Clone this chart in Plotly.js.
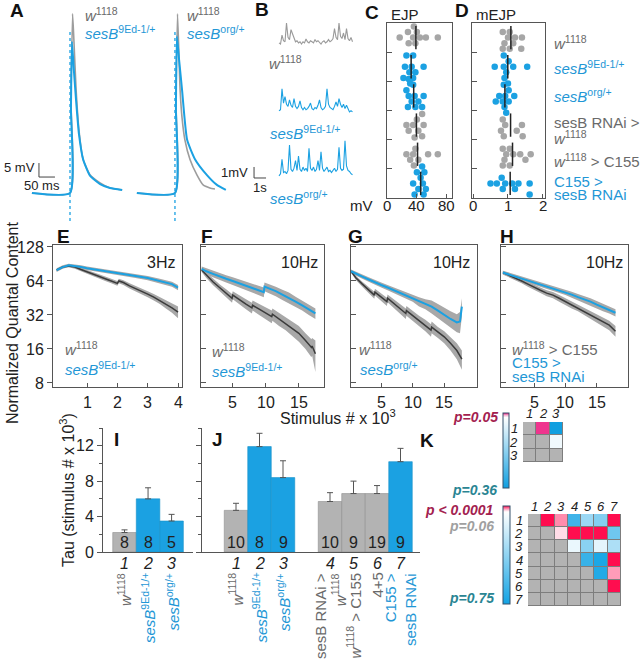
<!DOCTYPE html>
<html>
<head>
<meta charset="utf-8">
<script src="https://cdn.plot.ly/plotly-3.0.1.min.js"></script>
<style>
  html, body { margin: 0; padding: 0; background: #fff; }
  #fig { width: 642px; height: 664px; }
</style>
</head>
<body>
<div id="fig"></div>
<script>
// ---- A: averaged EJPs (ms, mV) ----
const aW_leftT  = [6, 125, 128, 133, 137, 144, 153, 166, 188, 219, 250, 288];
const aW_leftV  = [0, 0, 33, 64, 55, 37, 22.5, 12, 6.4, 3.6, 1.8, 1.1];
const aS_leftT  = [6, 125, 128, 131, 137, 144, 153, 166, 188, 219, 250, 288];
const aS_leftV  = [0, 0, 30, 54, 44, 33, 21, 12, 6.1, 3.2, 1.8, 1.1];
const aW_rightT = [334, 453, 456, 461, 469, 475, 484, 500, 522, 541, 562, 578];
const aW_rightV = [0, 0, 33, 64, 37, 27, 19, 12, 6.4, 2.9, 1.8, 1.4];
const aS_rightT = [334, 453, 456, 459, 466, 475, 491, 516, 553, 584, 612];
const aS_rightV = [0, 0, 30, 56, 47.5, 37, 19, 12, 6.4, 2.9, 1.1];
const aStimT = [125, 453];

// ---- B: mEJP recordings (mV, one sample per 0.125 s) ----
const bDt = 0.125;
const bW = [0.1,0.0,0.8,0.3,0.2,1.9,0.6,0.4,1.3,0.9,0.4,0.2,0.3,0.1,0.2,0.0,0.2,0.1,0.45,0.2,0.1,0.3,0.2,0.1,0.4,
            0.2,0.3,0.1,0.0,0.2,0.3,0.1,0.2,0.4,0.2,0.3,0.5,1.4,0.6,0.4,1.9,0.7,0.5,1.0,0.4,1.4,0.5,0.3,0.6,0.2];
const bS9 = [0.2,0.3,2.2,0.9,1.5,0.8,0.6,1.2,0.7,0.5,1.3,0.6,0.4,0.6,1.1,0.5,0.3,0.5,0.3,0.4,0.6,0.9,0.4,0.3,0.5,
             0.4,0.7,1.2,0.5,0.3,0.4,0.6,2.2,0.8,0.5,0.4,0.3,0.6,1.0,0.6,1.3,0.8,0.5,0.8,0.4,0.7,0.3,0.1,0.2,0.1];
const bSorg = [0.1,0.3,1.6,0.4,0.5,0.3,0.6,2.9,0.7,0.5,0.8,1.5,0.6,1.9,0.7,0.5,0.9,0.6,0.8,0.5,2.6,0.8,0.6,0.9,0.5,
               0.7,1.5,0.6,2.3,0.8,0.5,0.7,0.9,0.5,0.6,0.4,0.6,0.8,0.5,0.7,2.7,0.8,0.6,0.7,3.3,1.0,0.6,0.5,0.3,0.2];

// ---- C / D: EJP (mV) and mEJP (mV) per genotype ----
const cdMut = [false, true, true, false, false, true];
const ejp = [
  [35, 29, 44, 17, 28, 38, 52, 68, 36, 40],
  [33, 24, 38, 22, 35, 49, 26, 35, 31, 30],
  [29, 28, 37, 49, 26, 35, 47, 29, 38, 42, 33],
  [49, 26, 42, 35, 47, 29, 40, 47],
  [35, 36, 42, 26, 38, 55, 68, 31, 37],
  [48, 42, 52, 35, 45, 50, 40, 52, 44, 49, 37, 47]
];
const mejp = [
  [1.0, 0.9, 1.15, 1.4, 0.85, 1.05, 1.38, 0.85, 1.05, 1.2],
  [0.88, 0.95, 0.62, 0.9, 1.15, 1.55, 0.88, 1.02, 1.0],
  [0.75, 0.92, 1.02, 0.65, 0.9, 1.18, 0.88, 1.02, 0.95, 0.85],
  [0.92, 0.8, 1.4, 0.85, 1.25, 0.88, 1.42],
  [0.95, 0.9, 1.15, 0.85, 1.05, 1.35, 1.65, 0.85, 1.05, 1.5],
  [0.68, 0.92, 1.3, 1.62, 0.5, 0.85, 1.12, 1.62, 0.82, 1.2]
];

// ---- E-H: normalized quantal content vs stimulus # (x 10^3); mean and SEM ----
const eXs = [0, 0.2, 0.4, 0.6, 0.8, 1.0, 1.4, 1.8, 2.2, 2.6, 3.0, 3.4, 3.8, 4.0];
const eMs = [80, 85, 88, 87, 85, 83, 80, 77, 74, 71, 68, 64, 60, 56];
const eEs = [3, 3, 3, 3, 3, 3, 3, 3, 3, 3, 3, 3, 3, 3];
const eXw = [0, 0.2, 0.4, 0.6, 0.8, 1.0, 1.2, 1.4, 1.6, 1.8, 2.0, 2.05, 2.2, 2.4, 2.6, 2.8, 3.0, 3.2, 3.4, 3.6, 3.8, 4.0];
const eMw = [80, 85, 87, 85, 81, 77, 73, 70, 67, 64, 61, 64, 62, 58, 55, 52, 49, 46, 43, 40, 37, 34];
const eEw = [2, 2, 2.5, 3, 3, 3, 3, 3, 3, 3, 3, 3, 3, 3, 3, 3, 3, 3, 3, 3.5, 3.5, 4];

const fXs = [0.3, 1, 2, 3, 4, 5, 6, 7, 8, 9, 9.7, 9.8, 10.5, 11.5, 12.5, 13.5, 14.5, 15.5, 16.5, 17.5];
const fMs = [82, 78, 74, 70, 67, 64, 61, 58, 55.5, 53, 51, 57, 55, 52, 48.5, 45.5, 42, 39, 36, 33];
const fEs = [4, 5, 5, 5, 5, 5, 5, 5, 5, 5, 5, 5, 5, 5, 5, 5, 4.5, 4, 4, 3.5];
const fXw = [0.3, 1, 2, 3, 4, 4.9, 5.0, 6, 7, 7.9, 8.0, 9, 10, 10.9, 11.0, 12, 13, 14, 15, 16, 16.9, 17.0, 17.5];
const fMw = [80, 72, 63, 56, 50, 45, 48, 43.5, 40, 37, 39, 36, 33.5, 31, 32.5, 29.5, 27, 24.5, 22, 19, 16.5, 17, 14.5];
const fEw = [3, 4, 4, 4, 4, 4, 4, 4, 4, 4, 4, 4, 4, 4, 4, 4, 3.5, 3.5, 3.5, 3, 3, 3, 4.5];

const gXs = [0.2, 1, 2, 3, 4, 5, 6, 7, 8, 9, 10, 11, 12, 13, 14, 15, 16, 17, 17.5, 17.8];
const gMs = [78, 74, 70, 66, 62, 59, 56, 53, 50, 47.5, 45, 42, 40, 38, 35, 32, 29.5, 27.5, 28, 38];
const gEs = [3, 3, 3, 3, 3, 3, 3, 3, 3, 3, 3, 4, 4, 5, 5, 5, 5, 5, 6, 7];
const gXw = [0.2, 1, 2, 3, 3.9, 4.0, 5, 5.9, 6.0, 7, 8, 8.9, 9.0, 10, 11, 12, 12.9, 13.0, 14, 15, 16, 17, 17.8];
const gMw = [78, 68, 60, 53, 48, 51, 46, 42, 45, 40.5, 36.5, 33, 35, 31.5, 28.5, 26, 23.5, 25, 22.5, 20.5, 18, 15.5, 13];
const gEw = [2, 3, 3, 3.5, 3.5, 3.5, 3.5, 3.5, 3.5, 3.5, 3.5, 3.5, 3.5, 3, 3, 3, 3, 3, 2.5, 2.5, 2.5, 2.5, 2.5];

const hXs = [0, 1, 2, 3, 4, 5, 6, 7, 8, 9, 10, 11, 12, 13, 14, 15, 16, 17, 18];
const hMs = [76, 73, 70, 67.5, 65, 62.5, 60, 57.5, 55, 53, 51, 48.5, 46, 44, 42, 39.5, 37.5, 35.5, 33.5];
const hEs = [3, 3, 3, 3, 3, 3, 3, 3, 3, 3, 3, 3, 3, 3, 3, 3, 3, 2.5, 2.5];
const hXw = [0, 1, 2, 3, 4, 5, 6, 7, 8, 9, 10, 11, 12, 13, 14, 15, 16, 17, 18];
const hMw = [76, 72, 68, 64, 60, 56, 53, 50, 48, 45, 42, 39.5, 37, 34.5, 32, 30, 28, 26, 23];
const hEw = [3, 3, 3, 3, 3, 3, 3, 3, 3, 3, 3, 3, 2.5, 2.5, 2.5, 2.5, 2.5, 2.5, 2.5];

// ---- I / J: tau (stimulus # x 10^3) ----
const iPos = [1, 2, 3];
const iTau = [2.2, 6.0, 3.5];
const iErr = [0.3, 1.25, 0.75];
const iN = ['8', '8', '5'];
const iNum = ['1', '2', '3'];
const iMut = [false, true, true];
const iNames = ['<i>w</i><sup>1118</sup>', '<i>sesB</i><sup>9Ed-1/+</sup>', '<i>sesB</i><sup>org/+</sup>'];

const jPos = [1, 2, 3, 5, 6, 7, 8];
const jTau = [4.7, 11.9, 8.4, 5.7, 6.6, 6.6, 10.2];
const jErr = [0.8, 1.5, 1.9, 1.0, 1.4, 0.9, 1.5];
const jN = ['10', '8', '9', '10', '9', '19', '9'];
const jNum = ['1', '2', '3', '4', '5', '6', '7'];
const jMut = [false, true, true, false, false, false, true];
const jNames = ['<i>w</i><sup>1118</sup>', '<i>sesB</i><sup>9Ed-1/+</sup>', '<i>sesB</i><sup>org/+</sup>',
                'sesB RNAi ><br><i>w</i><sup>1118</sup>', '<i>w</i><sup>1118</sup> > C155', '4+5', 'C155 ><br>sesB RNAi'];

// ---- K: pairwise p values (upper triangle) ----
const kTopP = [
  [null, 0.0002, 0.36],
  [null, null, 0.07],
  [null, null, null]
];
const kBotP = [
  [null, 0.00005, 0.003, 0.62, 0.35, 0.42, 0.00005],
  [null, null, 0.04, 0.00005, 0.00005, 0.00005, 0.48],
  [null, null, null, 0.12, 0.40, 0.14, 0.30],
  [null, null, null, null, 0.64, 0.72, 0.00005],
  [null, null, null, null, null, 0.70, 0.005],
  [null, null, null, null, null, null, 0.00005],
  [null, null, null, null, null, null, null]
];

// ---------------------------------------------------------------
const W = 642, H = 664;
const X = px => px / W;
const Y = py => 1 - py / H;
const xdom = (a, b) => [X(a), X(b)];
const ydom = (a, b) => [Y(b), Y(a)];

const BLUE = '#1ba1e2', BLUE_TXT = '#1f97d6', GRAY_TXT = '#6a6a6a', DARK = '#3b3b3b';
const BAND = '#a8a8a8', DOT_GRAY = '#a6a6a6', BAR_GRAY = '#b3b3b3', AXIS = '#555';
const FONT = 'Arial, "Liberation Sans", Helvetica, sans-serif';

const traces = [];
const ann = [];
const shapes = [];
const layout = {
  width: W, height: H, margin: {l: 0, r: 0, t: 0, b: 0},
  paper_bgcolor: '#fff', plot_bgcolor: 'rgba(0,0,0,0)',
  showlegend: false, hovermode: false,
  font: {family: FONT, color: '#222'},
  annotations: ann, shapes: shapes
};

function sfx(n) { return n === 1 ? '' : String(n); }
function setAxes(n, xd, yd, xo, yo) {
  const s = sfx(n);
  layout['xaxis' + s] = Object.assign({domain: xd, anchor: 'y' + s, showgrid: false, zeroline: false}, xo);
  layout['yaxis' + s] = Object.assign({domain: yd, anchor: 'x' + s, showgrid: false, zeroline: false}, yo);
}
function onAx(n, t) { const s = sfx(n); t.xaxis = 'x' + s; t.yaxis = 'y' + s; traces.push(t); return t; }
function note(x, y, text, size, color, xa, extra) {
  ann.push(Object.assign({xref: 'paper', yref: 'paper', x: X(x), y: Y(y), text: text, showarrow: false,
    xanchor: xa || 'left', yanchor: 'middle', font: {family: FONT, size: size, color: color}}, extra || {}));
}
// tick labels placed as annotations so they sit as close to the axis as in the original
function xTickLabels(n, vals, py, size) {
  vals.forEach(v => ann.push({xref: 'x' + sfx(n), yref: 'paper', x: v, y: Y(py), text: String(v),
    showarrow: false, xanchor: 'center', yanchor: 'middle', font: {family: FONT, size: size, color: '#222'}}));
}
const hidden = o => Object.assign({visible: false}, o);
const boxAx = o => Object.assign({showline: true, mirror: true, linecolor: AXIS, linewidth: 1,
  ticks: 'inside', ticklen: 4, tickcolor: AXIS, tickfont: {family: FONT, size: 16, color: '#222'}}, o);

// panel letters
[['A', 17, 11], ['B', 262, 10], ['C', 372, 12], ['D', 462, 11], ['E', 63, 236], ['F', 207, 236],
 ['G', 356, 236], ['H', 507, 236], ['I', 116, 439], ['J', 217, 439], ['K', 427, 440]]
  .forEach(p => note(p[1], p[2], '<b>' + p[0] + '</b>', 19, '#111', 'center'));

// ---------------- A ----------------
const aMsPerPx = 3.125, aPxPerMv = 2.8, aT0px = 30, aBasePx = 193;
setAxes(1, xdom(0, 250), ydom(0, 225),
  hidden({range: [(0 - aT0px) * aMsPerPx, (250 - aT0px) * aMsPerPx]}),
  hidden({range: [(aBasePx - 225) / aPxPerMv, aBasePx / aPxPerMv]}));
const stimX = [], stimY = [];
aStimT.forEach(t => { stimX.push(t, t, null); stimY.push(-10, 58, null); });
onAx(1, {type: 'scatter', mode: 'lines', x: stimX, y: stimY, line: {color: BLUE, width: 1.3, dash: 'dot'}});
[[aW_leftT, aW_leftV, '#9d9d9d'], [aW_rightT, aW_rightV, '#9d9d9d'],
 [aS_leftT, aS_leftV, BLUE], [aS_rightT, aS_rightV, BLUE]].forEach(d =>
  onAx(1, {type: 'scatter', mode: 'lines', x: d[0], y: d[1],
    line: {color: d[2], width: d[2] === BLUE ? 2 : 1.6, shape: 'spline', smoothing: 0.5}}));
// 5 mV / 50 ms scale bar
const aBarT0 = 28, aBarV0 = 5.7;
onAx(1, {type: 'scatter', mode: 'lines', x: [aBarT0, aBarT0, aBarT0 + 50], y: [aBarV0 + 5, aBarV0, aBarV0],
  line: {color: '#444', width: 1}});
note(37, 167, '5 mV', 13, '#222', 'right');
note(42, 185, '50 ms', 13, '#222', 'center');
note(83, 15, '<i>w</i><sup>1118</sup>', 15, GRAY_TXT);
note(83, 33, '<i>sesB</i><sup>9Ed-1/+</sup>', 15, BLUE_TXT);
note(185, 15, '<i>w</i><sup>1118</sup>', 15, GRAY_TXT);
note(185, 33, '<i>sesB</i><sup>org/+</sup>', 15, BLUE_TXT);

// ---------------- B ----------------
const bPxPerS = 12, bPxPerMv = 11, bT0px = 279;
const bRangeX = [(250 - bT0px) / bPxPerS, (356 - bT0px) / bPxPerS];
[[2, bW, '#9a9a9a', 20, 47, 44], [3, bS9, BLUE, 83, 117, 113], [4, bSorg, BLUE, 140, 181, 177]].forEach(d => {
  const [n, vals, col, top, bot, base] = d;
  setAxes(n, xdom(250, 356), ydom(top, bot), hidden({range: bRangeX}),
    hidden({range: [-(bot - base) / bPxPerMv, (base - top) / bPxPerMv]}));
  onAx(n, {type: 'scatter', mode: 'lines', x: vals.map((_, i) => i * bDt), y: vals,
    line: {color: col, width: 1.1}});
});
// 1 mV / 1 s scale bar on the bottom trace
onAx(4, {type: 'scatter', mode: 'lines', x: [-2.08, -2.08, -1.08], y: [0.91, -0.09, -0.09],
  line: {color: '#444', width: 1}});
note(250, 172, '1mV', 13, '#222', 'right');
note(260, 188, '1s', 13, '#222', 'center');
note(267, 63, '<i>w</i><sup>1118</sup>', 15, GRAY_TXT);
note(268, 132, '<i>sesB</i><sup>9Ed-1/+</sup>', 15, BLUE_TXT);
note(268, 198, '<i>sesB</i><sup>org/+</sup>', 15, BLUE_TXT);

// ---------------- C / D ----------------
function swarm(vals, pxPerUnit, step, diam) {
  const placed = [], offs = [];
  const tries = [0, 1, -1, 2, -2, 3, -3];
  vals.forEach(v => {
    const xp = v * pxPerUnit;
    let k0 = tries[tries.length - 1];
    for (const k of tries) {
      const yp = k * step;
      if (placed.every(p => (p[0] - xp) ** 2 + (p[1] - yp) ** 2 >= diam * diam)) { k0 = k; break; }
    }
    placed.push([xp, k0 * step]);
    offs.push(k0 * step);
  });
  return offs;
}
const rowPx = 175 / 6;
function dotPanel(n, x0, x1, range, ticks, groups) {
  const pxPerUnit = (x1 - x0) / (range[1] - range[0]);
  setAxes(n, xdom(x0, x1), ydom(23, 198),
    boxAx({range: range, tickvals: ticks, showticklabels: false}),
    boxAx({range: [6.5, 0.5], tickvals: [1.5, 2.5, 3.5, 4.5, 5.5], showticklabels: false, ticklen: 5}));
  xTickLabels(n, ticks, 205, 15);
  groups.forEach((vals, g) => {
    const offs = swarm(vals, pxPerUnit, 5.6, 5.8);
    onAx(n, {type: 'scatter', mode: 'markers', x: vals, y: offs.map(o => g + 1 + o / rowPx),
      marker: {size: 6.5, color: cdMut[g] ? BLUE : DOT_GRAY}, cliponaxis: false});
  });
  const mx = [], my = [];
  groups.forEach((vals, g) => {
    const m = vals.reduce((a, b) => a + b, 0) / vals.length;
    mx.push(m, m, null); my.push(g + 1 - 0.4, g + 1 + 0.4, null);
  });
  onAx(n, {type: 'scatter', mode: 'lines', x: mx, y: my, line: {color: '#222', width: 1.5}});
}
dotPanel(5, 387, 452, [0, 87], [0, 40, 80], ejp);
dotPanel(6, 472, 545, [-0.03, 2.06], [0, 1, 2], mejp);
note(405, 15, 'EJP', 15, '#222', 'center');
note(496, 15, 'mEJP', 15, '#222', 'center');
note(375, 205, 'mV', 15, '#222', 'right');
note(552, 42, '<i>w</i><sup>1118</sup>', 15, GRAY_TXT);
note(552, 68, '<i>sesB</i><sup>9Ed-1/+</sup>', 15, BLUE_TXT);
note(552, 95, '<i>sesB</i><sup>org/+</sup>', 15, BLUE_TXT);
note(552, 123, 'sesB RNAi >', 15, GRAY_TXT);
note(552, 137, '<i>w</i><sup>1118</sup>', 15, GRAY_TXT);
note(552, 160, '<i>w</i><sup>1118</sup> > C155', 15, GRAY_TXT);
note(552, 181, 'C155 >', 15, BLUE_TXT);
note(552, 194, 'sesB RNAi', 15, BLUE_TXT);

// ---------------- E - H ----------------
const logRange = [Math.log10(7.37), Math.log10(133.3)];
function band(n, xs, m, e) {
  onAx(n, {type: 'scatter', mode: 'lines', x: xs, y: m.map((v, i) => v - e[i]), line: {width: 0, color: BAND}});
  onAx(n, {type: 'scatter', mode: 'lines', x: xs, y: m.map((v, i) => v + e[i]), line: {width: 0, color: BAND},
    fill: 'tonexty', fillcolor: BAND});
}
function qcPanel(n, x0, x1, xr, tv, first, w, s) {
  setAxes(n, xdom(x0, x1), ydom(245, 387),
    boxAx({range: xr, tickvals: tv, showticklabels: false}),
    boxAx(first
      ? {type: 'log', range: logRange, tickvals: [8, 16, 32, 64, 128], ticktext: ['8', '16', '32', '64', '128'],
         ticks: 'outside', ticklen: 5}
      : {type: 'log', range: logRange, tickvals: [8, 16, 32, 64, 128], showticklabels: false, ticklen: 5}));
  xTickLabels(n, tv, 402, 16);
  band(n, w[0], w[1], w[2]);
  band(n, s[0], s[1], s[2]);
  onAx(n, {type: 'scatter', mode: 'lines', x: w[0], y: w[1], line: {color: DARK, width: 1.5}});
  onAx(n, {type: 'scatter', mode: 'lines', x: s[0], y: s[1], line: {color: BLUE, width: 2}});
}
qcPanel(7, 53, 182, [-0.12, 4.13], [1, 2, 3, 4], true, [eXw, eMw, eEw], [eXs, eMs, eEs]);
qcPanel(8, 201, 324, [0.2, 18.8], [5, 10, 15], false, [fXw, fMw, fEw], [fXs, fMs, fEs]);
qcPanel(9, 351, 477, [0.2, 20.2], [5, 10, 15], false, [gXw, gMw, gEw], [gXs, gMs, gEs]);
qcPanel(10, 501, 628, [-0.3, 20.0], [5, 10, 15], false, [hXw, hMw, hEw], [hXs, hMs, hEs]);
note(177, 262, '3Hz', 16, '#222', 'right');
note(320, 262, '10Hz', 16, '#222', 'right');
note(472, 262, '10Hz', 16, '#222', 'right');
note(625, 262, '10Hz', 16, '#222', 'right');
note(63, 348, '<i>w</i><sup>1118</sup>', 15, GRAY_TXT);
note(63, 368, '<i>sesB</i><sup>9Ed-1/+</sup>', 15, BLUE_TXT);
note(210, 350, '<i>w</i><sup>1118</sup>', 15, GRAY_TXT);
note(210, 370, '<i>sesB</i><sup>9Ed-1/+</sup>', 15, BLUE_TXT);
note(357, 348, '<i>w</i><sup>1118</sup>', 15, GRAY_TXT);
note(358, 368, '<i>sesB</i><sup>org/+</sup>', 15, BLUE_TXT);
note(510, 348, '<i>w</i><sup>1118</sup> > C155', 15, GRAY_TXT);
note(510, 362, 'C155 >', 15, BLUE_TXT);
note(510, 376, 'sesB RNAi', 15, BLUE_TXT);
note(12, 323, 'Normalized Quantal Content', 16, '#222', 'center', {textangle: -90});
note(338, 417, 'Stimulus # x 10<sup>3</sup>', 16, '#222', 'center');

// ---------------- I / J ----------------
function barPanel(n, x0, x1, xr, pos, tau, err, nn, num, mut, names, labels) {
  setAxes(n, xdom(x0, x1), ydom(428, 552),
    {range: xr, showline: true, linecolor: AXIS, linewidth: 1, ticks: '', showticklabels: false},
    {range: [0, 14], showline: true, linecolor: AXIS, linewidth: 1, ticks: 'outside', ticklen: 5, tickcolor: AXIS,
     tickvals: [0, 4, 8, 12], showticklabels: labels, tickfont: {family: FONT, size: 16, color: '#222'},
     minor: {tickvals: [2, 6, 10, 14], ticks: 'outside', ticklen: 3, tickcolor: AXIS}});
  onAx(n, {type: 'bar', x: pos, y: tau, width: 1,
    marker: {color: mut.map(m => m ? BLUE : BAR_GRAY), line: {color: mut.map(m => m ? '#1590c8' : '#8f8f8f'), width: 0.6}},
    error_y: {type: 'data', array: err, arrayminus: err.map(() => 0), symmetric: false, color: '#555', thickness: 1, width: 3}});
  const s = sfx(n);
  pos.forEach((p, i) => {
    ann.push({xref: 'x' + s, yref: 'y' + s, x: p, y: 0, yanchor: 'bottom', xanchor: 'center', yshift: -1,
      text: nn[i], showarrow: false, font: {family: FONT, size: 16, color: '#222'}});
    ann.push({xref: 'x' + s, yref: 'paper', x: p, y: Y(563), yanchor: 'middle', xanchor: 'center',
      text: '<i>' + num[i] + '</i>', showarrow: false, font: {family: FONT, size: 16, color: '#222'}});
    ann.push({xref: 'x' + s, yref: 'paper', x: p, y: Y(571), yanchor: 'top', xanchor: 'center', textangle: -90,
      align: 'right', text: names[i], showarrow: false,
      font: {family: FONT, size: 15, color: mut[i] ? BLUE_TXT : GRAY_TXT}});
  });
}
barPanel(11, 103, 193, [0.085, 3.91], iPos, iTau, iErr, iN, iNum, iMut, iNames, true);
barPanel(12, 202, 420, [-0.447, 8.83], jPos, jTau, jErr, jN, jNum, jMut, jNames, false);
note(67, 490, 'Tau (stimulus # x 10<sup>3</sup>)', 16, '#222', 'center', {textangle: -90});

// ---------------- K ----------------
function pScore(p, pWhite, pBlue) {
  if (p === null) return null;
  if (p < 0.05) {
    const f = (Math.log10(0.05) - Math.log10(p)) / (Math.log10(0.05) - Math.log10(0.0001));
    return 0.95 + 0.05 * Math.min(1, Math.max(0, f));
  }
  return 0.94 * Math.min(1, Math.max(0, (pBlue - p) / (pBlue - pWhite)));
}
function matrixPanel(n, x0, x1, y0, y1, P, pWhite, pBlue, scale, cb, labX, labY) {
  const k = P.length;
  const idx = P.map((_, i) => i + 1);
  setAxes(n, xdom(x0, x1), ydom(y0, y1), hidden({range: [0.5, k + 0.5]}), hidden({range: [k + 0.5, 0.5]}));
  shapes.push({type: 'rect', xref: 'paper', yref: 'paper', x0: X(x0), x1: X(x1), y0: Y(y1), y1: Y(y0),
    fillcolor: '#7d7d7d', line: {width: 0}, layer: 'below'});
  onAx(n, {type: 'heatmap', x: idx, y: idx, z: P.map((r, i) => r.map((_, j) => j <= i ? 1 : null)),
    colorscale: [[0, BAR_GRAY], [1, BAR_GRAY]], showscale: false, xgap: 1, ygap: 1, zmin: 0, zmax: 1});
  onAx(n, {type: 'heatmap', x: idx, y: idx, z: P.map(r => r.map(p => pScore(p, pWhite, pBlue))),
    colorscale: scale, zmin: 0, zmax: 1, xgap: 1, ygap: 1, showscale: true,
    colorbar: Object.assign({xanchor: 'left', yanchor: 'top', lenmode: 'pixels', thicknessmode: 'pixels',
      showticklabels: false, ticks: '', tickvals: [], xpad: 0, ypad: 0, outlinewidth: 1, outlinecolor: '#34506a'}, cb)});
  const s = sfx(n);
  idx.forEach(i => {
    ann.push({xref: 'x' + s, yref: 'paper', x: i, y: Y(labY), text: '<i>' + i + '</i>', showarrow: false,
      xanchor: 'center', yanchor: 'middle', font: {family: FONT, size: 13, color: '#222'}});
    ann.push({xref: 'paper', yref: 'y' + s, x: X(labX), y: i, text: '<i>' + i + '</i>', showarrow: false,
      xanchor: 'right', yanchor: 'middle', font: {family: FONT, size: 13, color: '#222'}});
  });
}
matrixPanel(13, 523, 563, 422, 462, kTopP, 0.05, 0.36,
  [[0, '#109fe0'], [0.94, '#ffffff'], [0.965, '#f7c4da'], [1, '#ee1a80']],
  {x: X(503), y: Y(413), len: 75, thickness: 6}, 520, 413);
matrixPanel(14, 528, 621, 514, 606, kBotP, 0.06, 0.75,
  [[0, '#12a3e4'], [0.94, '#ffffff'], [0.955, '#ffd3e0'], [0.975, '#ff82a6'], [1, '#ff0d4f']],
  {x: X(503), y: Y(506), len: 98, thickness: 7}, 525, 506);
note(500, 417, '<b><i>p=0.05</i></b>', 14, '#a3214f', 'right');
note(499, 490, '<b><i>p=0.36</i></b>', 14, '#2a8593', 'right');
note(496, 510, '<b><i>p < 0.0001</i></b>', 14, '#a3214f', 'right');
note(496, 526, '<b><i>p=0.06</i></b>', 14, '#a0a0a0', 'right');
note(496, 598, '<b><i>p=0.75</i></b>', 14, '#2a8593', 'right');

Plotly.newPlot('fig', traces, layout, {staticPlot: true, displayModeBar: false});
</script>
</body>
</html>
